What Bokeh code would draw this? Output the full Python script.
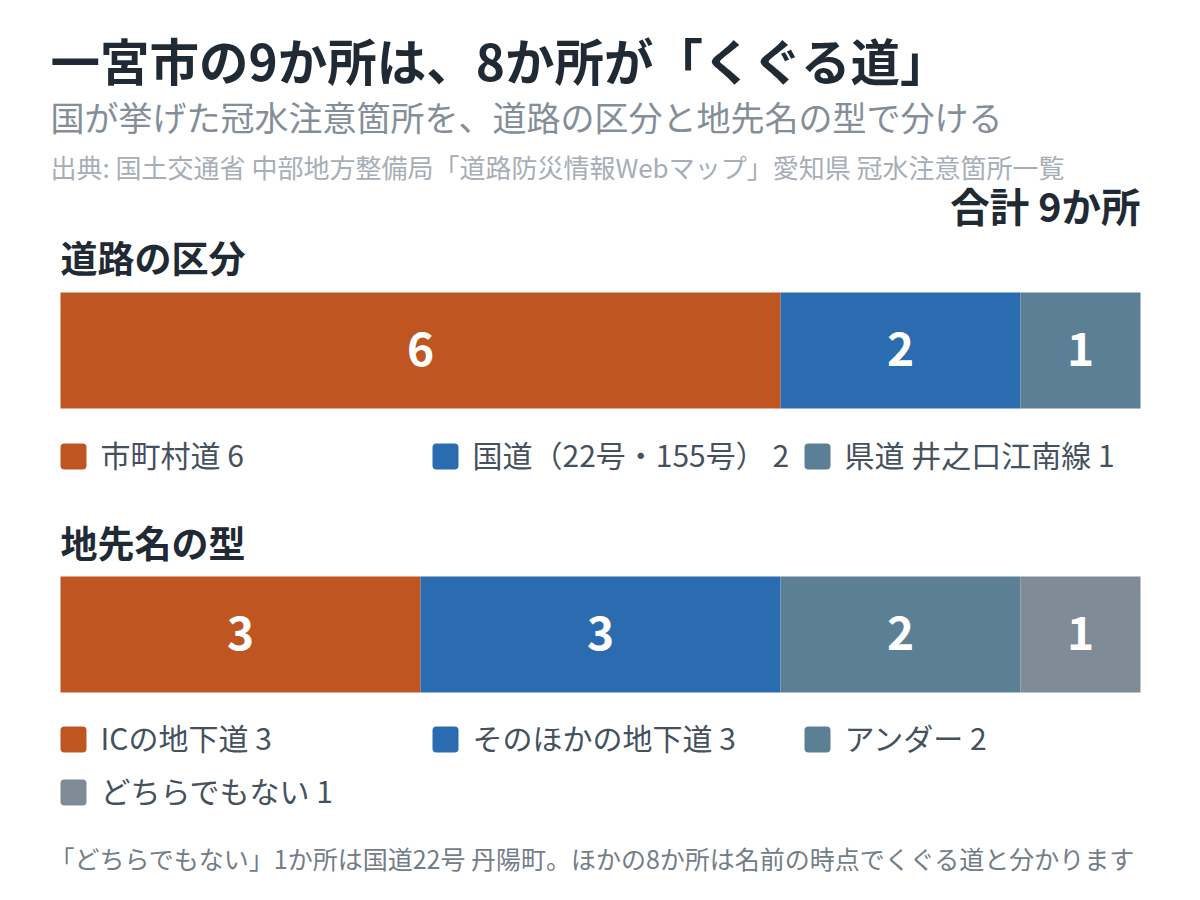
from bokeh.plotting import figure
from bokeh.models import Range1d
from bokeh.core.properties import value
from bokeh.embed import file_html
from bokeh.resources import INLINE

# テキスト
title = "一宮市の9か所は、8か所が「くぐる道」"
subtitle = "国が挙げた冠水注意箇所を、道路の区分と地先名の型で分ける"
source_note = "出典: 国土交通省 中部地方整備局「道路防災情報Webマップ」愛知県 冠水注意箇所一覧"
total_label = "合計 9か所"
footnote = "「どちらでもない」1か所は国道22号 丹陽町。ほかの8か所は名前の時点でくぐる道と分かります"

# データ
road_title = "道路の区分"
road_names = ["市町村道", "国道（22号・155号）", "県道 井之口江南線"]
road_counts = [6, 2, 1]

place_title = "地先名の型"
place_names = ["ICの地下道", "そのほかの地下道", "アンダー", "どちらでもない"]
place_counts = [3, 3, 2, 1]

palette = ["#BF5622", "#2B6CB0", "#5B7F95", "#7F8B97"]

FONT = "Noto Sans CJK JP"
DARK = "#1F2A35"
W, H = 1184, 884
BAR_LEFT, BAR_RIGHT = 60, 1140  # ページ上のピクセル
total = sum(road_counts)
unit = (BAR_RIGHT - BAR_LEFT) / total


def dx(px):
    # ページのピクセル位置 -> x データ座標
    return (px - BAR_LEFT) / unit


p = figure(width=W, height=H, output_backend="svg", toolbar_location=None,
           x_range=Range1d(dx(0), dx(W)), y_range=Range1d(H, 0),
           x_axis_location=None, y_axis_location=None, min_border=0,
           outline_line_color=None, background_fill_color="white",
           border_fill_color="white")
p.grid.visible = False


def label(x_px, y_px, text, size, color, bold=False, align="left"):
    p.text(x=[dx(x_px)], y=[y_px], text=[text], text_font=value(FONT),
           text_font_size=f"{size}px", text_color=color,
           text_font_style="bold" if bold else "normal",
           text_align=align, text_baseline="middle")


def section(header, names, counts, header_y, bar_y, legend_y):
    label(60, header_y, header, 37, DARK, bold=True)

    rights = []
    acc = 0
    for c in counts:
        acc += c
        rights.append(acc)
    lefts = [r - c for r, c in zip(rights, counts)]
    colors = palette[:len(counts)]
    p.hbar(y=[bar_y] * len(counts), left=lefts, right=rights, height=116,
           fill_color=colors, line_color=None)
    p.text(x=[(l + r) / 2 for l, r in zip(lefts, rights)], y=[bar_y - 2] * len(counts),
           text=[str(c) for c in counts], text_font=value(FONT),
           text_font_size="46px", text_font_style="bold", text_color="white",
           text_align="center", text_baseline="middle")

    # 凡例
    for i, (name, c) in enumerate(zip(names, counts)):
        col, row = i % 3, i // 3
        x0 = 60 + col * 372
        y0 = legend_y + row * 53
        p.quad(left=[dx(x0)], right=[dx(x0 + 26)], top=[y0 - 13], bottom=[y0 + 13],
               fill_color=palette[i], line_color=None, border_radius=4)
        label(x0 + 40, y0 - 3, f"{name} {c}", 30, "#45515D")


label(50, 59, title, 49.5, DARK, bold=True)
label(50, 116, subtitle, 34, "#848E98")
label(50, 166, source_note, 26, "#A6AEB6")
label(1140, 204, total_label, 39.5, DARK, bold=True, align="right")

section(road_title, road_names, road_counts, 256, 350, 456)
section(place_title, place_names, place_counts, 541, 634, 739)

label(49, 857, footnote, 25, "#737D87")

open("out.html", "w").write(file_html(p, INLINE))
